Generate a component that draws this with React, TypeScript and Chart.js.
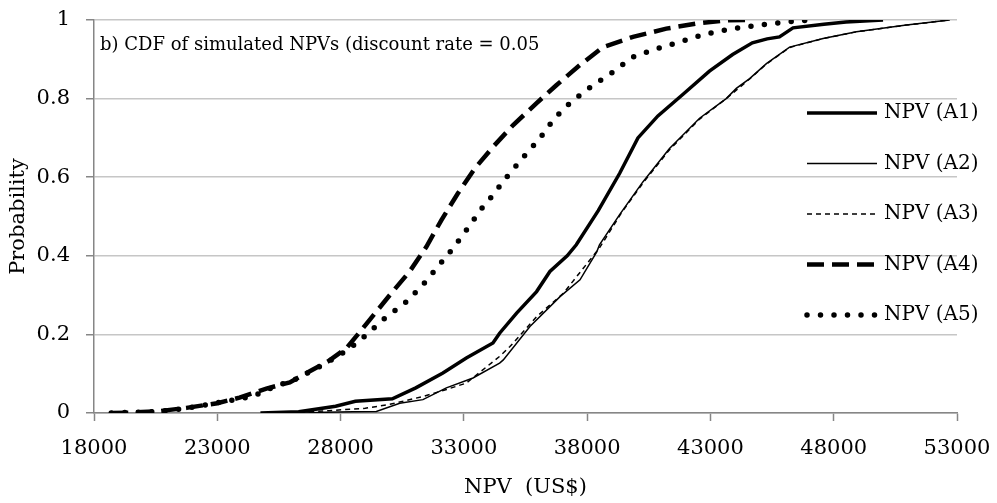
import React, { useEffect, useRef } from "react";
import { Chart, registerables } from "chart.js";

Chart.register(...registerables);

const seriesLabels = ["NPV (A1)", "NPV (A2)", "NPV (A3)", "NPV (A4)", "NPV (A5)"];

const a1X = [24750, 26300, 27800, 28600, 30100, 31050, 32150, 33100, 34180, 34450, 35140, 35950, 36490, 37190, 37560, 38450, 39320, 40060, 40870, 41890, 42960, 43900, 44700, 45300, 45800, 46350, 47600, 48500, 50000];
const a1Y = [0, 0.003, 0.017, 0.03, 0.036, 0.064, 0.102, 0.14, 0.178, 0.203, 0.254, 0.309, 0.36, 0.4, 0.428, 0.515, 0.61, 0.7, 0.756, 0.811, 0.87, 0.912, 0.942, 0.952, 0.957, 0.98, 0.989, 0.995, 1];

const a2X = [26500, 27400, 28500, 29450, 30400, 31340, 32290, 33370, 34450, 34600, 35680, 36900, 37710, 38390, 38500, 39310, 40260, 41340, 42560, 43640, 44050, 44590, 45270, 46210, 47570, 48920, 50950, 52700];
const a2Y = [0, 0.002, 0.003, 0.004, 0.025, 0.034, 0.064, 0.089, 0.127, 0.135, 0.22, 0.296, 0.339, 0.41, 0.428, 0.504, 0.588, 0.673, 0.75, 0.8, 0.826, 0.851, 0.889, 0.931, 0.953, 0.97, 0.987, 1];

const a3X = [26000, 27500, 29000, 30000, 31340, 32300, 33100, 34450, 34870, 35950, 37040, 38120, 38500, 39400, 40260, 41340, 42560, 43640, 44590, 45270, 46210, 47570, 48920, 50950, 52700];
const a3Y = [0, 0.006, 0.012, 0.022, 0.042, 0.06, 0.076, 0.144, 0.169, 0.245, 0.305, 0.39, 0.42, 0.51, 0.585, 0.67, 0.748, 0.8, 0.85, 0.888, 0.93, 0.953, 0.97, 0.987, 1];

const a4X = [18700, 19500, 20670, 21750, 23000, 23900, 24990, 25940, 26750, 27480, 28240, 28700, 29180, 30060, 30800, 31480, 32090, 32760, 33440, 34180, 34990, 35940, 36750, 37700, 38640, 39860, 41210, 42430, 43650, 44500];
const a4Y = [0, 0.001, 0.005, 0.013, 0.025, 0.039, 0.062, 0.078, 0.106, 0.131, 0.165, 0.2, 0.237, 0.305, 0.36, 0.423, 0.491, 0.559, 0.622, 0.677, 0.732, 0.788, 0.834, 0.885, 0.931, 0.957, 0.978, 0.991, 0.999, 1];

const a5X = [18700, 20670, 21750, 23370, 24440, 25400, 26000, 26610, 27500, 28300, 29050, 29790, 30600, 31280, 31890, 32560, 33100, 33780, 34120, 34720, 35400, 36080, 36680, 37360, 38240, 39050, 39860, 40810, 41750, 42840, 43920, 45000, 46080, 47160];
const a5Y = [0, 0.004, 0.012, 0.03, 0.042, 0.07, 0.08, 0.1, 0.13, 0.161, 0.199, 0.241, 0.279, 0.322, 0.368, 0.419, 0.465, 0.525, 0.55, 0.599, 0.65, 0.699, 0.75, 0.792, 0.834, 0.868, 0.906, 0.927, 0.944, 0.965, 0.978, 0.987, 0.995, 1];

const xTickValues = [18000, 23000, 28000, 33000, 38000, 43000, 48000, 53000];
const yTickValues = [0, 0.2, 0.4, 0.6, 0.8, 1];
const xTitle = "NPV  (US$)";
const yTitle = "Probability";
const annotationText = "b) CDF of simulated NPVs (discount rate = 0.05";

const FONT = "'DejaVu Serif', serif";

function pts(xs: number[], ys: number[]) {
  return xs.map((x, i) => ({ x, y: ys[i] }));
}

export default function App() {
  const ref = useRef<HTMLCanvasElement | null>(null);

  useEffect(() => {
    if (!ref.current) return;
    const styles = [
      { borderWidth: 3.5, borderDash: [], borderCapStyle: "butt" },
      { borderWidth: 1.5, borderDash: [], borderCapStyle: "butt" },
      { borderWidth: 1.5, borderDash: [5, 4], borderCapStyle: "butt" },
      { borderWidth: 4.5, borderDash: [17, 8], borderCapStyle: "butt" },
      { borderWidth: 5.5, borderDash: [0, 13.5], borderCapStyle: "round" },
    ];
    const series = [pts(a1X, a1Y), pts(a2X, a2Y), pts(a3X, a3Y), pts(a4X, a4Y), pts(a5X, a5Y)];

    const overlay = {
      id: "overlay",
      afterDraw(chart: any) {
        const ctx = chart.ctx;
        const area = chart.chartArea;
        ctx.save();
        ctx.fillStyle = "#000";
        ctx.font = `18px ${FONT}`;
        ctx.textBaseline = "middle";
        ctx.textAlign = "left";
        ctx.fillText(annotationText, area.left + 6, area.top + 25);
        // legend
        ctx.font = `20px ${FONT}`;
        chart.data.datasets.forEach((ds: any, i: number) => {
          const y = area.top + 93 + i * 50.5;
          const x0 = area.right - 150;
          const x1 = area.right - 80;
          ctx.beginPath();
          ctx.strokeStyle = "#000";
          ctx.lineWidth = ds.borderWidth;
          ctx.setLineDash(ds.borderDash || []);
          ctx.lineCap = ds.borderCapStyle;
          ctx.moveTo(x0, y);
          ctx.lineTo(x1, y);
          ctx.stroke();
          ctx.setLineDash([]);
          ctx.fillText(ds.label, area.right - 73, y);
        });
        ctx.restore();
      },
    };

    const chart = new Chart(ref.current, {
      type: "line",
      data: {
        datasets: series.map((data, i) => ({
          label: seriesLabels[i],
          data,
          borderColor: "#000",
          backgroundColor: "#000",
          pointRadius: 0,
          tension: 0,
          fill: false,
          ...(styles[i] as any),
        })),
      },
      options: {
        animation: false,
        responsive: false,
        maintainAspectRatio: false,
        layout: { padding: { left: 0, right: 40, top: 20, bottom: 0 } },
        plugins: { legend: { display: false }, tooltip: { enabled: false } },
        scales: {
          x: {
            type: "linear",
            min: 18000,
            max: 53000,
            afterBuildTicks: (scale: any) => {
              scale.ticks = xTickValues.map((v) => ({ value: v }));
            },
            afterFit: (scale: any) => {
              scale.height = 90;
              scale.paddingLeft = 0;
              scale.paddingRight = 0;
            },
            ticks: {
              color: "#000",
              font: { family: FONT, size: 21 },
              padding: 15,
              maxRotation: 0,
              autoSkip: false,
              callback: (v: any) => String(v),
            },
            grid: {
              drawOnChartArea: false,
              drawTicks: true,
              tickLength: 8,
              tickColor: "#868686",
              tickWidth: 1.5,
            },
            border: { display: true, color: "#868686", width: 1.5 },
            title: {
              display: true,
              text: xTitle,
              color: "#000",
              font: { family: FONT, size: 21 },
              padding: { top: 0, bottom: 3 },
            },
          },
          y: {
            type: "linear",
            min: 0,
            max: 1,
            afterBuildTicks: (scale: any) => {
              scale.ticks = yTickValues.map((v) => ({ value: v }));
            },
            afterFit: (scale: any) => {
              scale.width = 94;
              scale.paddingTop = 0;
              scale.paddingBottom = 0;
            },
            ticks: {
              color: "#000",
              font: { family: FONT, size: 21 },
              padding: 16,
              callback: (v: any) => String(v),
            },
            grid: {
              color: "#c6c6c6",
              lineWidth: 1.5,
              tickLength: 8,
              tickColor: "#868686",
              tickWidth: 1.5,
            },
            border: { display: true, color: "#868686", width: 1.5 },
            title: {
              display: true,
              text: yTitle,
              color: "#000",
              font: { family: FONT, size: 21 },
              padding: { top: 6, bottom: 0 },
            },
          },
        },
      },
      plugins: [overlay],
    } as any);
    return () => chart.destroy();
  }, []);

  return (
    <div style={{ position: "absolute", left: 0, top: 0, width: 997, height: 503, background: "#fff" }}>
      <canvas ref={ref} width={997} height={503} />
    </div>
  );
}
